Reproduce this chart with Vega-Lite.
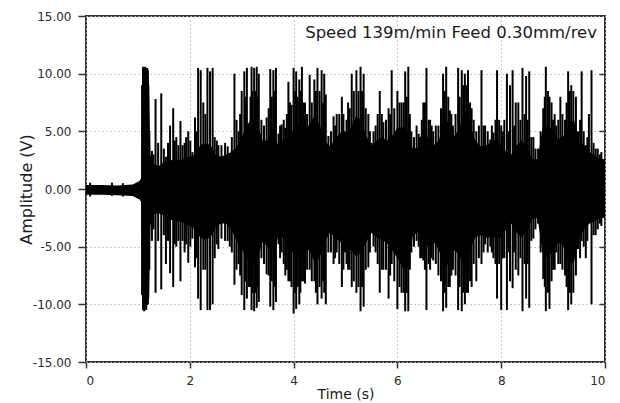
{
  "$schema": "https://vega.github.io/schema/vega-lite/v6.json",
  "width": 519,
  "height": 346,
  "autosize": "none",
  "padding": {"left": 86, "top": 16, "right": 15, "bottom": 41},
  "background": "white",
  "title": {"text": "Speed 139m/min Feed 0.30mm/rev", "anchor": "end", "frame": "group", "orient": "top", "offset": -44, "baseline": "alphabetic", "dx": -8, "font": "DejaVu Sans", "fontSize": 16.5, "fontWeight": "normal", "color": "#1a1a1a"},
  "config": {
    "view": {"stroke": "#333333", "strokeWidth": 2},
    "axis": {"labelFont": "DejaVu Sans", "labelFontSize": 12, "labelColor": "#2a2a2a", "titleFont": "DejaVu Sans", "titleFontWeight": "normal", "titleColor": "#1a1a1a", "tickColor": "#333333", "tickWidth": 1.5, "domain": false, "gridColor": "#b8b8b8", "gridDash": [1.5, 2.5], "gridWidth": 1}
  },
  "datasets": {
    "core": [
      {"t": 0.0, "hi": 0.35, "lo": -0.5},
      {"t": 0.3, "hi": 0.35, "lo": -0.5},
      {"t": 0.6, "hi": 0.3, "lo": -0.55},
      {"t": 0.9, "hi": 0.4, "lo": -0.6},
      {"t": 1.03, "hi": 0.7, "lo": -0.9},
      {"t": 1.07, "hi": 1.0, "lo": -1.2},
      {"t": 1.08, "hi": 10.4, "lo": -10.3},
      {"t": 1.21, "hi": 10.3, "lo": -10.0},
      {"t": 1.24, "hi": 3.0, "lo": -3.2},
      {"t": 1.3, "hi": 2.2, "lo": -2.2},
      {"t": 1.4, "hi": 2.0, "lo": -2.1},
      {"t": 1.5, "hi": 2.3, "lo": -2.3},
      {"t": 1.6, "hi": 2.4, "lo": -2.6},
      {"t": 1.7, "hi": 2.6, "lo": -2.8},
      {"t": 1.8, "hi": 2.5, "lo": -2.8},
      {"t": 1.9, "hi": 2.7, "lo": -3.0},
      {"t": 2.0, "hi": 2.8, "lo": -3.2},
      {"t": 2.1, "hi": 3.0, "lo": -3.5},
      {"t": 2.2, "hi": 3.8, "lo": -4.2},
      {"t": 2.3, "hi": 4.0, "lo": -4.4},
      {"t": 2.4, "hi": 3.8, "lo": -4.2},
      {"t": 2.5, "hi": 3.0, "lo": -3.3},
      {"t": 2.6, "hi": 2.8, "lo": -3.0},
      {"t": 2.7, "hi": 3.0, "lo": -3.0},
      {"t": 2.8, "hi": 3.2, "lo": -3.5},
      {"t": 2.9, "hi": 3.6, "lo": -4.5},
      {"t": 3.0, "hi": 4.5, "lo": -5.2},
      {"t": 3.1, "hi": 5.5, "lo": -6.0},
      {"t": 3.2, "hi": 6.2, "lo": -6.5},
      {"t": 3.3, "hi": 5.8, "lo": -6.2},
      {"t": 3.4, "hi": 4.2, "lo": -4.6},
      {"t": 3.5, "hi": 4.2, "lo": -5.0},
      {"t": 3.6, "hi": 5.2, "lo": -5.3},
      {"t": 3.7, "hi": 3.8, "lo": -4.2},
      {"t": 3.8, "hi": 4.2, "lo": -4.2},
      {"t": 3.9, "hi": 4.5, "lo": -5.0},
      {"t": 4.0, "hi": 5.2, "lo": -5.6},
      {"t": 4.1, "hi": 5.6, "lo": -6.0},
      {"t": 4.2, "hi": 4.8, "lo": -5.3},
      {"t": 4.3, "hi": 5.6, "lo": -5.3},
      {"t": 4.4, "hi": 6.3, "lo": -6.3},
      {"t": 4.5, "hi": 5.6, "lo": -6.0},
      {"t": 4.6, "hi": 4.2, "lo": -4.6},
      {"t": 4.7, "hi": 3.7, "lo": -3.8},
      {"t": 4.8, "hi": 4.3, "lo": -4.2},
      {"t": 4.9, "hi": 4.9, "lo": -4.6},
      {"t": 5.0, "hi": 4.6, "lo": -4.9},
      {"t": 5.1, "hi": 5.3, "lo": -5.3},
      {"t": 5.2, "hi": 6.3, "lo": -5.8},
      {"t": 5.3, "hi": 6.0, "lo": -5.6},
      {"t": 5.4, "hi": 4.6, "lo": -4.6},
      {"t": 5.5, "hi": 3.7, "lo": -3.8},
      {"t": 5.6, "hi": 4.2, "lo": -4.2},
      {"t": 5.7, "hi": 4.5, "lo": -4.4},
      {"t": 5.8, "hi": 4.2, "lo": -4.7},
      {"t": 5.9, "hi": 4.6, "lo": -5.3},
      {"t": 6.0, "hi": 5.3, "lo": -6.0},
      {"t": 6.1, "hi": 5.4, "lo": -6.8},
      {"t": 6.2, "hi": 5.0, "lo": -6.8},
      {"t": 6.3, "hi": 3.5, "lo": -4.0},
      {"t": 6.4, "hi": 3.6, "lo": -3.8},
      {"t": 6.5, "hi": 5.6, "lo": -4.6},
      {"t": 6.6, "hi": 4.2, "lo": -5.0},
      {"t": 6.7, "hi": 3.8, "lo": -4.6},
      {"t": 6.8, "hi": 4.2, "lo": -5.3},
      {"t": 6.9, "hi": 6.3, "lo": -6.8},
      {"t": 7.0, "hi": 5.6, "lo": -6.4},
      {"t": 7.1, "hi": 4.6, "lo": -5.3},
      {"t": 7.2, "hi": 5.3, "lo": -5.8},
      {"t": 7.3, "hi": 7.0, "lo": -6.8},
      {"t": 7.4, "hi": 5.6, "lo": -5.3},
      {"t": 7.5, "hi": 4.2, "lo": -4.2},
      {"t": 7.6, "hi": 3.7, "lo": -4.0},
      {"t": 7.7, "hi": 3.8, "lo": -4.2},
      {"t": 7.8, "hi": 4.0, "lo": -4.2},
      {"t": 7.9, "hi": 4.3, "lo": -4.2},
      {"t": 8.0, "hi": 3.8, "lo": -4.2},
      {"t": 8.1, "hi": 3.2, "lo": -3.5},
      {"t": 8.2, "hi": 3.0, "lo": -3.0},
      {"t": 8.3, "hi": 3.8, "lo": -3.8},
      {"t": 8.4, "hi": 4.2, "lo": -4.2},
      {"t": 8.5, "hi": 3.5, "lo": -3.5},
      {"t": 8.6, "hi": 2.6, "lo": -2.6},
      {"t": 8.7, "hi": 2.6, "lo": -2.5},
      {"t": 8.8, "hi": 5.3, "lo": -5.6},
      {"t": 8.9, "hi": 5.5, "lo": -6.0},
      {"t": 9.0, "hi": 5.0, "lo": -5.3},
      {"t": 9.1, "hi": 4.3, "lo": -4.6},
      {"t": 9.2, "hi": 4.6, "lo": -5.0},
      {"t": 9.3, "hi": 5.6, "lo": -6.4},
      {"t": 9.4, "hi": 6.0, "lo": -6.4},
      {"t": 9.5, "hi": 4.2, "lo": -4.2},
      {"t": 9.6, "hi": 3.7, "lo": -3.5},
      {"t": 9.7, "hi": 3.2, "lo": -3.0},
      {"t": 9.8, "hi": 2.9, "lo": -2.8},
      {"t": 9.9, "hi": 2.6, "lo": -2.5},
      {"t": 10.0, "hi": 2.6, "lo": -2.5}
    ],
    "spikes": [
      {"t": 0.08, "hi": 0.55, "lo": -0.65},
      {"t": 0.5, "hi": 0.55, "lo": -0.6},
      {"t": 0.71, "hi": 0.5, "lo": -0.65},
      {"t": 1.08, "hi": 9.0, "lo": -9.2},
      {"t": 1.10, "hi": 10.6, "lo": -10.5},
      {"t": 1.12, "hi": 10.5, "lo": -10.6},
      {"t": 1.14, "hi": 10.6, "lo": -10.3},
      {"t": 1.16, "hi": 10.4, "lo": -10.5},
      {"t": 1.18, "hi": 10.5, "lo": -10.0},
      {"t": 1.20, "hi": 9.0, "lo": -9.5},
      {"t": 1.22, "hi": 5.0, "lo": -7.0},
      {"t": 1.27, "hi": 3.3, "lo": -4.5},
      {"t": 1.30, "hi": 3.0, "lo": -3.5},
      {"t": 1.34, "hi": 7.8, "lo": -9.0},
      {"t": 1.39, "hi": 4.0, "lo": -4.5},
      {"t": 1.45, "hi": 8.3, "lo": -8.7},
      {"t": 1.50, "hi": 3.5, "lo": -4.0},
      {"t": 1.54, "hi": 2.8, "lo": -6.5},
      {"t": 1.58, "hi": 4.0, "lo": -4.5},
      {"t": 1.62, "hi": 5.5, "lo": -7.3},
      {"t": 1.68, "hi": 7.0, "lo": -8.5},
      {"t": 1.71, "hi": 4.2, "lo": -4.8},
      {"t": 1.74, "hi": 4.5, "lo": -5.0},
      {"t": 1.78, "hi": 3.8, "lo": -4.5},
      {"t": 1.82, "hi": 5.9, "lo": -8.0},
      {"t": 1.86, "hi": 3.8, "lo": -4.5},
      {"t": 1.90, "hi": 4.0, "lo": -5.5},
      {"t": 1.93, "hi": 4.5, "lo": -4.8},
      {"t": 1.97, "hi": 5.0, "lo": -6.4},
      {"t": 2.01, "hi": 4.2, "lo": -5.0},
      {"t": 2.05, "hi": 3.2, "lo": -4.3},
      {"t": 2.10, "hi": 6.2, "lo": -6.8},
      {"t": 2.13, "hi": 5.0, "lo": -6.0},
      {"t": 2.16, "hi": 10.5, "lo": -9.5},
      {"t": 2.21, "hi": 10.3, "lo": -10.5},
      {"t": 2.26, "hi": 7.5, "lo": -7.0},
      {"t": 2.30, "hi": 6.5, "lo": -7.0},
      {"t": 2.34, "hi": 10.5, "lo": -10.5},
      {"t": 2.39, "hi": 10.2, "lo": -10.5},
      {"t": 2.44, "hi": 10.5, "lo": -10.0},
      {"t": 2.48, "hi": 4.5, "lo": -6.0},
      {"t": 2.52, "hi": 4.2, "lo": -4.8},
      {"t": 2.55, "hi": 3.8, "lo": -5.2},
      {"t": 2.61, "hi": 3.8, "lo": -4.3},
      {"t": 2.68, "hi": 4.0, "lo": -4.5},
      {"t": 2.73, "hi": 3.7, "lo": -4.5},
      {"t": 2.77, "hi": 2.6, "lo": -5.0},
      {"t": 2.81, "hi": 4.5, "lo": -5.5},
      {"t": 2.86, "hi": 10.0, "lo": -8.3},
      {"t": 2.90, "hi": 6.0, "lo": -7.0},
      {"t": 2.94, "hi": 5.0, "lo": -6.5},
      {"t": 2.97, "hi": 6.5, "lo": -7.5},
      {"t": 3.00, "hi": 8.5, "lo": -9.2},
      {"t": 3.05, "hi": 10.2, "lo": -10.5},
      {"t": 3.07, "hi": 8.0, "lo": -8.0},
      {"t": 3.10, "hi": 10.5, "lo": -9.5},
      {"t": 3.14, "hi": 5.5, "lo": -8.5},
      {"t": 3.17, "hi": 8.0, "lo": -8.5},
      {"t": 3.19, "hi": 10.6, "lo": -10.5},
      {"t": 3.21, "hi": 8.5, "lo": -9.0},
      {"t": 3.24, "hi": 10.5, "lo": -10.6},
      {"t": 3.27, "hi": 8.5, "lo": -9.0},
      {"t": 3.29, "hi": 10.6, "lo": -10.3},
      {"t": 3.31, "hi": 8.0, "lo": -8.5},
      {"t": 3.33, "hi": 10.0, "lo": -9.8},
      {"t": 3.38, "hi": 6.0, "lo": -6.0},
      {"t": 3.43, "hi": 5.5, "lo": -6.5},
      {"t": 3.48, "hi": 6.2, "lo": -7.4},
      {"t": 3.52, "hi": 7.0, "lo": -7.5},
      {"t": 3.55, "hi": 10.4, "lo": -10.2},
      {"t": 3.58, "hi": 8.0, "lo": -8.0},
      {"t": 3.61, "hi": 10.3, "lo": -10.5},
      {"t": 3.64, "hi": 8.5, "lo": -8.5},
      {"t": 3.66, "hi": 10.5, "lo": -9.8},
      {"t": 3.71, "hi": 4.8, "lo": -4.8},
      {"t": 3.74, "hi": 5.5, "lo": -6.0},
      {"t": 3.77, "hi": 5.6, "lo": -5.5},
      {"t": 3.81, "hi": 6.0, "lo": -6.5},
      {"t": 3.84, "hi": 5.3, "lo": -7.5},
      {"t": 3.87, "hi": 6.5, "lo": -7.0},
      {"t": 3.90, "hi": 9.3, "lo": -8.0},
      {"t": 3.93, "hi": 7.5, "lo": -8.0},
      {"t": 3.96, "hi": 7.3, "lo": -8.5},
      {"t": 4.00, "hi": 10.5, "lo": -10.8},
      {"t": 4.03, "hi": 8.5, "lo": -9.0},
      {"t": 4.05, "hi": 10.2, "lo": -10.4},
      {"t": 4.08, "hi": 8.0, "lo": -8.5},
      {"t": 4.11, "hi": 9.5, "lo": -10.0},
      {"t": 4.13, "hi": 8.5, "lo": -9.0},
      {"t": 4.16, "hi": 10.6, "lo": -8.0},
      {"t": 4.19, "hi": 7.5, "lo": -8.0},
      {"t": 4.22, "hi": 7.5, "lo": -8.2},
      {"t": 4.26, "hi": 6.5, "lo": -7.0},
      {"t": 4.31, "hi": 9.9, "lo": -7.0},
      {"t": 4.35, "hi": 7.5, "lo": -8.0},
      {"t": 4.40, "hi": 9.5, "lo": -8.0},
      {"t": 4.43, "hi": 8.5, "lo": -9.0},
      {"t": 4.46, "hi": 10.5, "lo": -10.0},
      {"t": 4.50, "hi": 8.5, "lo": -8.5},
      {"t": 4.54, "hi": 10.3, "lo": -9.5},
      {"t": 4.57, "hi": 7.5, "lo": -8.0},
      {"t": 4.59, "hi": 10.0, "lo": -9.0},
      {"t": 4.62, "hi": 8.2, "lo": -10.0},
      {"t": 4.67, "hi": 4.6, "lo": -5.5},
      {"t": 4.72, "hi": 5.0, "lo": -5.5},
      {"t": 4.77, "hi": 6.3, "lo": -6.5},
      {"t": 4.80, "hi": 5.5, "lo": -6.0},
      {"t": 4.83, "hi": 6.5, "lo": -5.5},
      {"t": 4.88, "hi": 6.5, "lo": -6.5},
      {"t": 4.93, "hi": 8.0, "lo": -8.5},
      {"t": 4.96, "hi": 6.5, "lo": -7.0},
      {"t": 4.99, "hi": 5.0, "lo": -5.5},
      {"t": 5.02, "hi": 6.0, "lo": -6.5},
      {"t": 5.05, "hi": 7.5, "lo": -7.0},
      {"t": 5.08, "hi": 7.0, "lo": -7.0},
      {"t": 5.12, "hi": 10.0, "lo": -8.5},
      {"t": 5.16, "hi": 8.5, "lo": -8.0},
      {"t": 5.21, "hi": 10.3, "lo": -9.0},
      {"t": 5.25, "hi": 8.5, "lo": -8.5},
      {"t": 5.29, "hi": 10.6, "lo": -10.6},
      {"t": 5.32, "hi": 8.5, "lo": -8.5},
      {"t": 5.35, "hi": 10.0, "lo": -10.2},
      {"t": 5.39, "hi": 7.0, "lo": -7.0},
      {"t": 5.44, "hi": 6.5, "lo": -6.8},
      {"t": 5.47, "hi": 5.0, "lo": -5.5},
      {"t": 5.50, "hi": 4.0, "lo": -3.8},
      {"t": 5.54, "hi": 5.0, "lo": -5.0},
      {"t": 5.58, "hi": 5.5, "lo": -5.5},
      {"t": 5.62, "hi": 6.5, "lo": -6.5},
      {"t": 5.66, "hi": 8.5, "lo": -9.0},
      {"t": 5.70, "hi": 6.5, "lo": -7.0},
      {"t": 5.73, "hi": 5.8, "lo": -7.0},
      {"t": 5.78, "hi": 6.0, "lo": -7.0},
      {"t": 5.83, "hi": 7.0, "lo": -9.5},
      {"t": 5.86, "hi": 6.5, "lo": -7.5},
      {"t": 5.89, "hi": 10.3, "lo": -6.5},
      {"t": 5.94, "hi": 7.0, "lo": -8.0},
      {"t": 6.00, "hi": 8.5, "lo": -10.4},
      {"t": 6.04, "hi": 7.5, "lo": -8.5},
      {"t": 6.08, "hi": 7.5, "lo": -9.0},
      {"t": 6.12, "hi": 7.5, "lo": -9.0},
      {"t": 6.15, "hi": 10.2, "lo": -10.6},
      {"t": 6.18, "hi": 8.0, "lo": -9.0},
      {"t": 6.21, "hi": 10.6, "lo": -10.6},
      {"t": 6.24, "hi": 6.5, "lo": -7.0},
      {"t": 6.27, "hi": 5.0, "lo": -5.5},
      {"t": 6.32, "hi": 4.5, "lo": -5.0},
      {"t": 6.37, "hi": 5.5, "lo": -4.5},
      {"t": 6.41, "hi": 4.8, "lo": -5.0},
      {"t": 6.44, "hi": 4.5, "lo": -6.0},
      {"t": 6.47, "hi": 6.0, "lo": -6.0},
      {"t": 6.50, "hi": 7.5, "lo": -6.2},
      {"t": 6.53, "hi": 7.5, "lo": -7.0},
      {"t": 6.56, "hi": 10.5, "lo": -10.5},
      {"t": 6.60, "hi": 6.0, "lo": -6.5},
      {"t": 6.63, "hi": 6.0, "lo": -7.0},
      {"t": 6.66, "hi": 5.5, "lo": -6.0},
      {"t": 6.69, "hi": 5.0, "lo": -6.2},
      {"t": 6.74, "hi": 5.5, "lo": -6.5},
      {"t": 6.79, "hi": 5.5, "lo": -7.5},
      {"t": 6.84, "hi": 7.0, "lo": -8.0},
      {"t": 6.88, "hi": 10.0, "lo": -10.6},
      {"t": 6.91, "hi": 8.5, "lo": -9.0},
      {"t": 6.94, "hi": 10.6, "lo": -10.3},
      {"t": 6.98, "hi": 8.0, "lo": -8.5},
      {"t": 7.01, "hi": 6.8, "lo": -8.5},
      {"t": 7.04, "hi": 6.5, "lo": -7.5},
      {"t": 7.07, "hi": 5.5, "lo": -7.0},
      {"t": 7.12, "hi": 6.5, "lo": -7.5},
      {"t": 7.17, "hi": 10.5, "lo": -10.5},
      {"t": 7.20, "hi": 8.0, "lo": -8.5},
      {"t": 7.24, "hi": 10.3, "lo": -10.6},
      {"t": 7.27, "hi": 9.0, "lo": -9.0},
      {"t": 7.30, "hi": 10.0, "lo": -10.0},
      {"t": 7.33, "hi": 9.0, "lo": -9.0},
      {"t": 7.36, "hi": 10.3, "lo": -9.0},
      {"t": 7.40, "hi": 7.5, "lo": -8.0},
      {"t": 7.43, "hi": 7.0, "lo": -8.5},
      {"t": 7.47, "hi": 6.0, "lo": -6.5},
      {"t": 7.52, "hi": 5.0, "lo": -8.0},
      {"t": 7.57, "hi": 5.5, "lo": -6.0},
      {"t": 7.62, "hi": 10.3, "lo": -6.5},
      {"t": 7.66, "hi": 5.5, "lo": -5.5},
      {"t": 7.69, "hi": 5.5, "lo": -4.8},
      {"t": 7.74, "hi": 5.0, "lo": -5.5},
      {"t": 7.79, "hi": 4.3, "lo": -5.0},
      {"t": 7.82, "hi": 5.5, "lo": -5.5},
      {"t": 7.85, "hi": 4.9, "lo": -6.0},
      {"t": 7.89, "hi": 6.0, "lo": -6.5},
      {"t": 7.92, "hi": 10.3, "lo": -9.5},
      {"t": 7.96, "hi": 6.0, "lo": -6.5},
      {"t": 8.00, "hi": 5.5, "lo": -10.5},
      {"t": 8.03, "hi": 5.0, "lo": -6.0},
      {"t": 8.06, "hi": 6.0, "lo": -6.0},
      {"t": 8.11, "hi": 10.0, "lo": -10.5},
      {"t": 8.14, "hi": 5.0, "lo": -5.5},
      {"t": 8.17, "hi": 9.0, "lo": -8.0},
      {"t": 8.22, "hi": 10.3, "lo": -8.6},
      {"t": 8.25, "hi": 5.5, "lo": -5.5},
      {"t": 8.28, "hi": 7.5, "lo": -7.0},
      {"t": 8.33, "hi": 7.5, "lo": -7.5},
      {"t": 8.37, "hi": 6.0, "lo": -6.0},
      {"t": 8.41, "hi": 10.5, "lo": -10.6},
      {"t": 8.45, "hi": 6.5, "lo": -6.5},
      {"t": 8.48, "hi": 9.8, "lo": -9.5},
      {"t": 8.51, "hi": 6.0, "lo": -6.5},
      {"t": 8.54, "hi": 10.2, "lo": -10.3},
      {"t": 8.58, "hi": 4.5, "lo": -4.5},
      {"t": 8.62, "hi": 4.5, "lo": -4.3},
      {"t": 8.66, "hi": 3.5, "lo": -3.5},
      {"t": 8.71, "hi": 3.5, "lo": -3.0},
      {"t": 8.76, "hi": 5.0, "lo": -5.5},
      {"t": 8.81, "hi": 7.0, "lo": -7.8},
      {"t": 8.84, "hi": 8.0, "lo": -8.5},
      {"t": 8.86, "hi": 10.6, "lo": -10.6},
      {"t": 8.90, "hi": 8.5, "lo": -9.0},
      {"t": 8.93, "hi": 8.0, "lo": -10.4},
      {"t": 8.97, "hi": 7.5, "lo": -8.0},
      {"t": 9.00, "hi": 6.0, "lo": -7.0},
      {"t": 9.03, "hi": 6.5, "lo": -7.0},
      {"t": 9.06, "hi": 5.5, "lo": -5.5},
      {"t": 9.10, "hi": 6.0, "lo": -6.5},
      {"t": 9.14, "hi": 8.0, "lo": -6.5},
      {"t": 9.18, "hi": 6.5, "lo": -7.0},
      {"t": 9.23, "hi": 6.0, "lo": -7.5},
      {"t": 9.26, "hi": 7.5, "lo": -8.5},
      {"t": 9.29, "hi": 10.2, "lo": -10.5},
      {"t": 9.32, "hi": 8.5, "lo": -9.0},
      {"t": 9.35, "hi": 9.0, "lo": -10.0},
      {"t": 9.39, "hi": 8.5, "lo": -9.0},
      {"t": 9.44, "hi": 8.0, "lo": -7.5},
      {"t": 9.48, "hi": 5.0, "lo": -5.2},
      {"t": 9.52, "hi": 6.0, "lo": -6.0},
      {"t": 9.55, "hi": 10.2, "lo": -4.5},
      {"t": 9.59, "hi": 5.0, "lo": -5.0},
      {"t": 9.63, "hi": 3.8, "lo": -6.0},
      {"t": 9.66, "hi": 4.5, "lo": -4.5},
      {"t": 9.69, "hi": 6.5, "lo": -3.0},
      {"t": 9.74, "hi": 10.3, "lo": -10.0},
      {"t": 9.78, "hi": 4.0, "lo": -4.0},
      {"t": 9.82, "hi": 3.5, "lo": -4.0},
      {"t": 9.86, "hi": 3.5, "lo": -3.5},
      {"t": 9.90, "hi": 3.0, "lo": -3.0},
      {"t": 9.93, "hi": 3.2, "lo": -3.2},
      {"t": 9.96, "hi": 2.5, "lo": -2.5}
    ]
  },
  "layer": [
    {
      "data": {"name": "core"},
      "mark": {"type": "area", "color": "#000000", "interpolate": "linear", "clip": true},
      "encoding": {
        "x": {"field": "t", "type": "quantitative", "scale": {"domain": [0, 10], "nice": false, "zero": false},
          "axis": {"orient": "bottom", "values": [0, 2, 4, 6, 8, 10], "format": "d", "title": "Time (s)", "titleFontSize": 14, "titleY": 25, "titleBaseline": "top", "tickSize": 6, "labelPadding": 7, "grid": true}},
        "y": {"field": "hi", "type": "quantitative", "scale": {"domain": [-15, 15], "nice": false},
          "axis": {"orient": "left", "values": [-15, -10, -5, 0, 5, 10, 15], "labelExpr": "replace(format(datum.value, '.2f'), '\u2212', '-')", "title": "Amplitude (V)", "titleFontSize": 16, "titleX": -52, "titleY": 173, "titleAngle": 270, "titleBaseline": "bottom", "tickSize": 8, "labelPadding": 7, "grid": true}},
        "y2": {"field": "lo"}
      }
    },
    {
      "data": {"name": "spikes"},
      "mark": {"type": "rule", "color": "#000000", "strokeWidth": 2, "clip": true},
      "encoding": {
        "x": {"field": "t", "type": "quantitative", "scale": {"domain": [0, 10], "nice": false, "zero": false}},
        "y": {"field": "hi", "type": "quantitative", "scale": {"domain": [-15, 15], "nice": false},
          "axis": {"orient": "right", "values": [-10, -5, 0, 5, 10], "labels": false, "title": null, "tickSize": -6, "grid": false}},
        "y2": {"field": "lo"}
      }
    }
  ]
}
